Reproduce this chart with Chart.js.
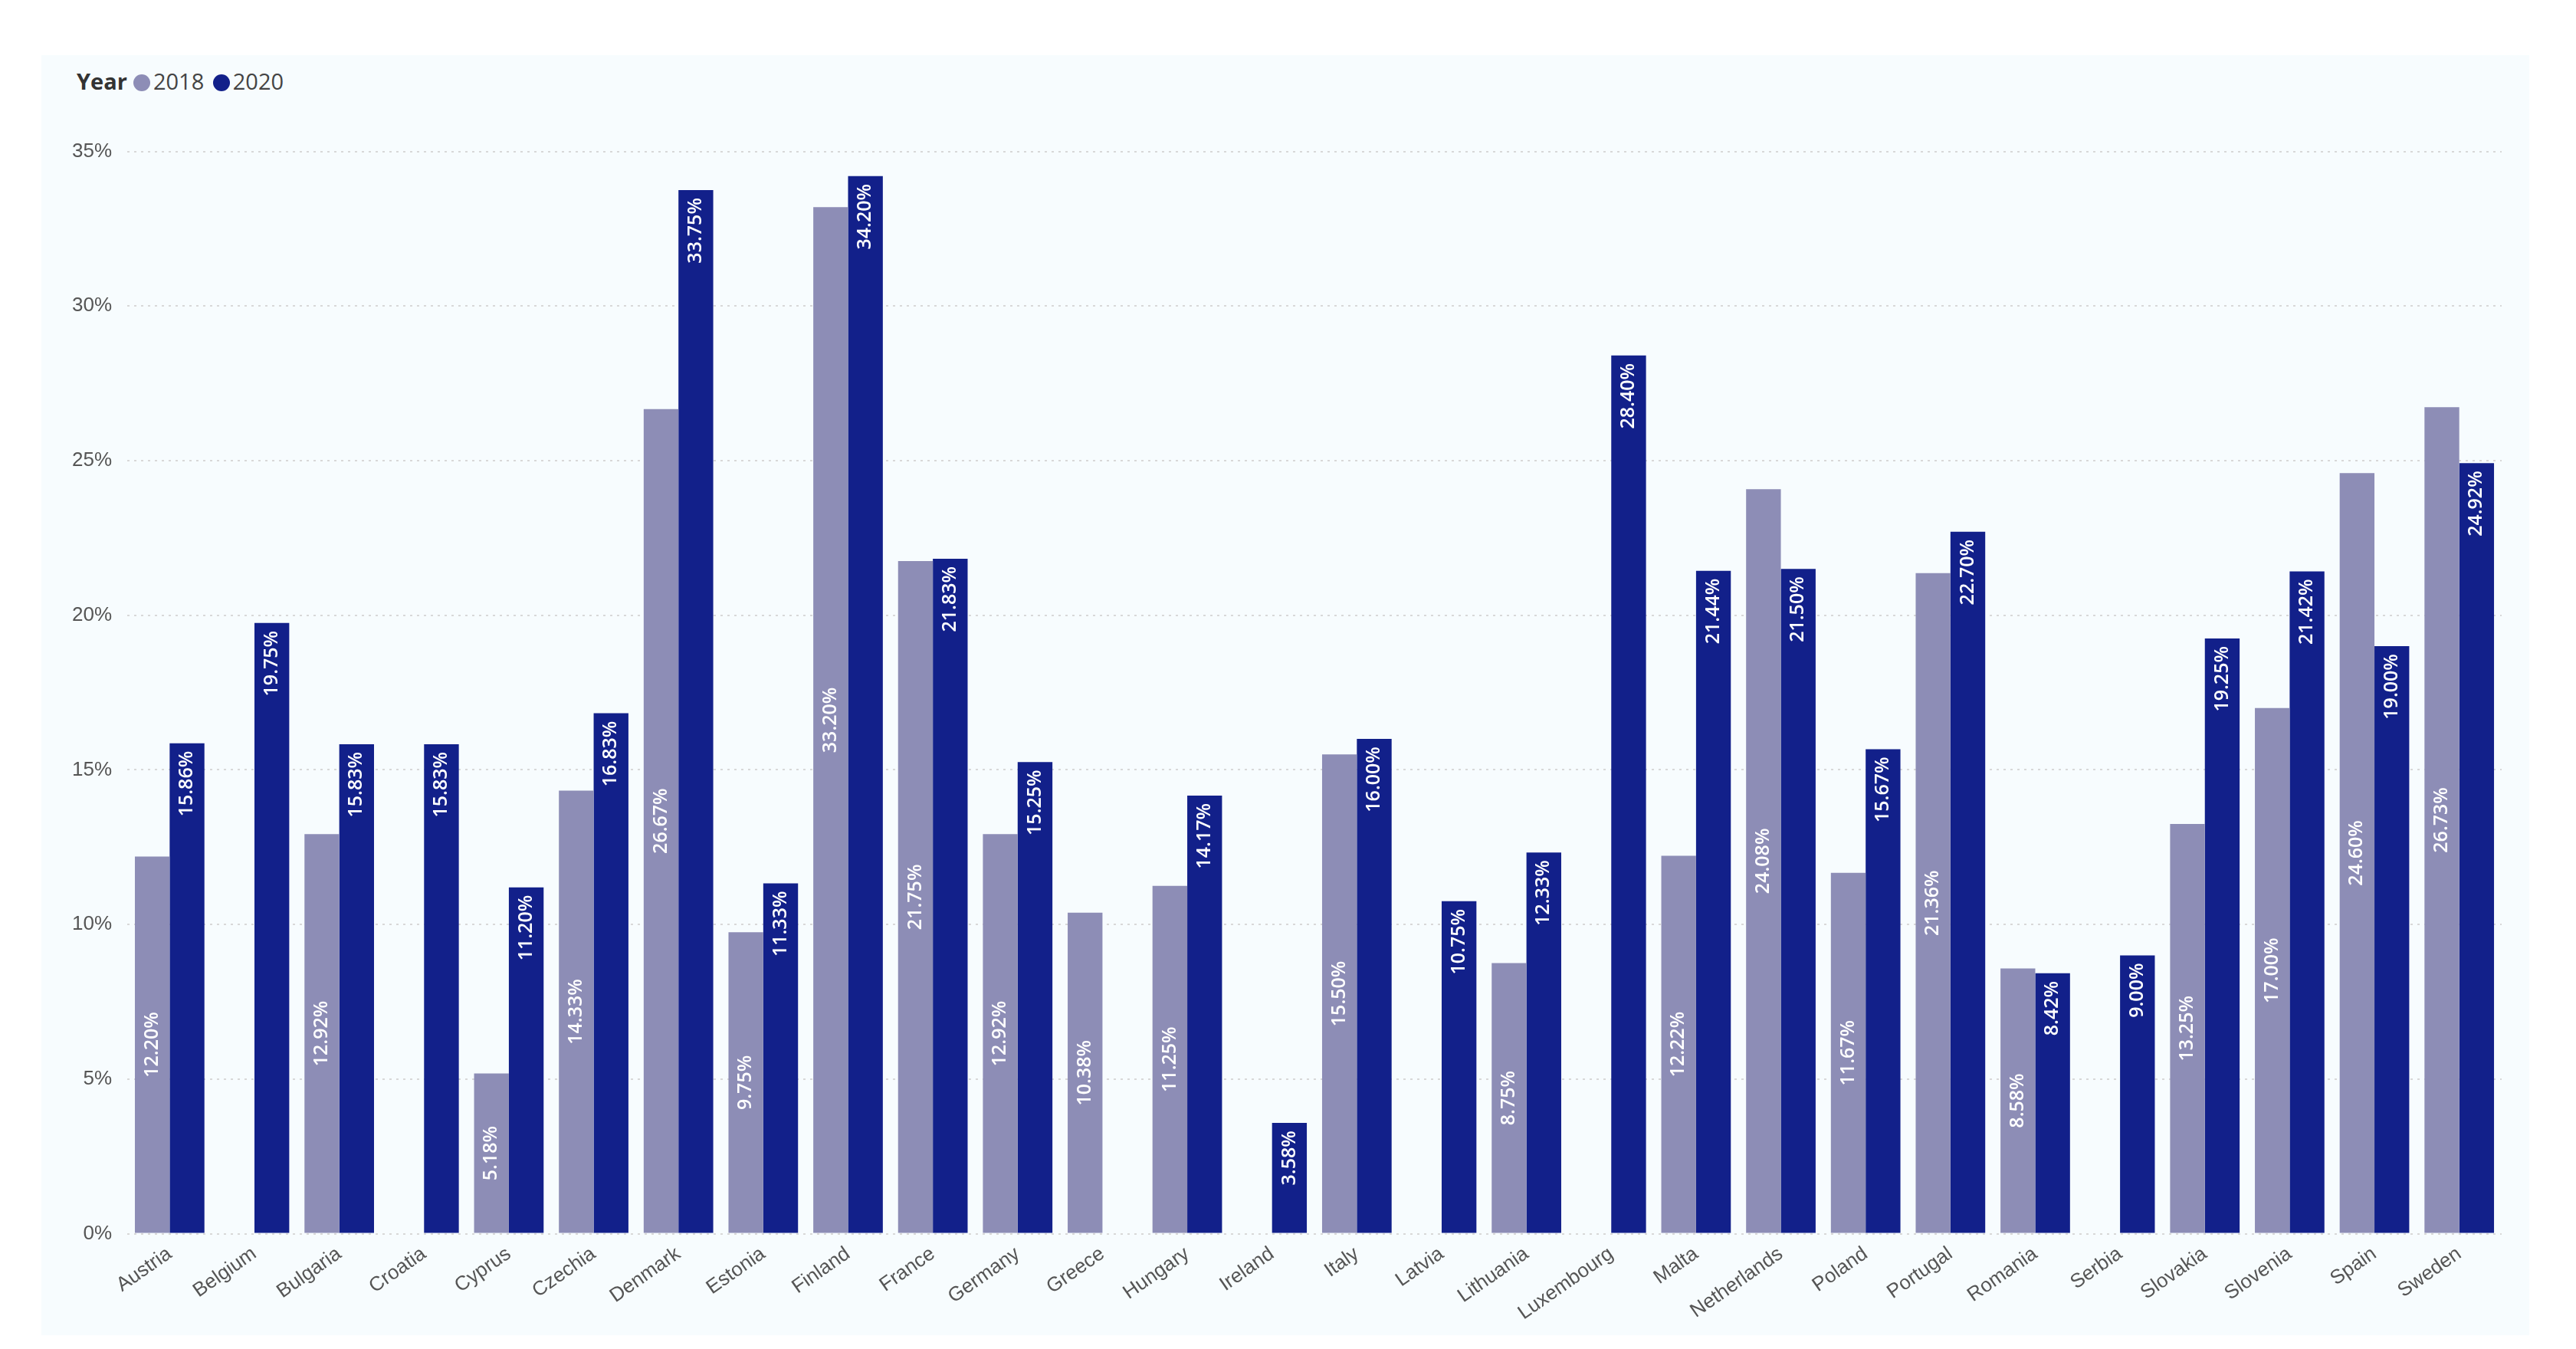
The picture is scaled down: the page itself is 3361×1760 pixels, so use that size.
<!DOCTYPE html>
<html>
<head>
<meta charset="utf-8">
<script src="https://cdn.jsdelivr.net/npm/chart.js@4"></script>
<style>
  body { margin: 0; background: #fff; font-family: "Segoe UI", "Open Sans", sans-serif; }
  #card { position: absolute; left: 54px; top: 72px; width: 3246px; height: 1670px; background: #f7fcfe; }
  #legend { position: absolute; left: 46px; top: 14px; font-size: 29px; color: #444; }
  #legend b { color: #333; margin-right: 8px; }
  .dot { display: inline-block; width: 22px; height: 22px; border-radius: 50%; vertical-align: -2px; margin-right: 4px; }
  #wrap { position: absolute; left: 20px; top: 90px; width: 3220px; height: 1570px; }
</style>
</head>
<body>
<div id="card">
  <div id="legend"><b>Year</b><span class="dot" style="background:#8d8db6"></span>2018 <span class="dot" style="background:#12208a;margin-left:4px"></span>2020</div>
  <div id="wrap"><canvas id="chart"></canvas></div>
</div>
<script>
const paises = ["Austria","Belgium","Bulgaria","Croatia","Cyprus","Czechia","Denmark","Estonia","Finland","France","Germany","Greece","Hungary","Ireland","Italy","Latvia","Lithuania","Luxembourg","Malta","Netherlands","Poland","Portugal","Romania","Serbia","Slovakia","Slovenia","Spain","Sweden"];
const valores2018 = [12.20,null,12.92,null,5.18,14.33,26.67,9.75,33.20,21.75,12.92,10.38,11.25,null,15.50,null,8.75,null,12.22,24.08,11.67,21.36,8.58,null,13.25,17.00,24.60,26.73];
const valores2020 = [15.86,19.75,15.83,15.83,11.20,16.83,33.75,11.33,34.20,21.83,15.25,null,14.17,3.58,16.00,10.75,12.33,28.40,21.44,21.50,15.67,22.70,8.42,9.00,19.25,21.42,19.00,24.92];

// Etiquetas de valor dentro de las barras (texto vertical)
const etiquetas = {
    id: "etiquetas",
    afterDatasetsDraw(chart) {
        const ctx = chart.ctx;
        ctx.save();
        ctx.fillStyle = "#fff";
        ctx.font = "600 25px 'Open Sans', sans-serif";
        ctx.textBaseline = "middle";
        chart.data.datasets.forEach((ds, i) => {
            chart.getDatasetMeta(i).data.forEach((bar, j) => {
                const v = ds.data[j];
                if (v == null) return;
                const txt = v.toFixed(2) + "%";
                const w = ctx.measureText(txt).width;
                let y;
                if (i === 0) {
                    y = (bar.y + bar.base) / 2;
                } else {
                    y = bar.y + 10 + w / 2;
                }
                ctx.save();
                ctx.translate(bar.x, y);
                ctx.rotate(-Math.PI / 2);
                ctx.textAlign = "center";
                ctx.fillText(txt, 0, 0);
                ctx.restore();
            });
        });
        ctx.restore();
    }
};

new Chart(document.getElementById("chart"), {
    type: "bar",
    data: {
        labels: paises,
        datasets: [
            { label: "2018", data: valores2018, backgroundColor: "#8d8db6", categoryPercentage: 0.82, barPercentage: 1 },
            { label: "2020", data: valores2020, backgroundColor: "#12208a", categoryPercentage: 0.82, barPercentage: 1 }
        ]
    },
    options: {
        responsive: true,
        maintainAspectRatio: false,
        animation: false,
        layout: { padding: { right: 30, top: 10 } },
        plugins: { legend: { display: false }, tooltip: { enabled: false } },
        scales: {
            x: {
                grid: { display: false },
                border: { display: false },
                ticks: { color: "#555", font: { size: 26 }, minRotation: 35, maxRotation: 35, autoSkip: false }
            },
            y: {
                min: 0, max: 35,
                ticks: { stepSize: 5, color: "#555", font: { size: 26 }, callback: v => v + "%", padding: 20 },
                grid: { color: "#d8d8d8", lineWidth: 2, drawTicks: false },
                border: { display: false, dash: [3, 6] }
            }
        }
    },
    plugins: [etiquetas]
});
</script>
</body>
</html>
